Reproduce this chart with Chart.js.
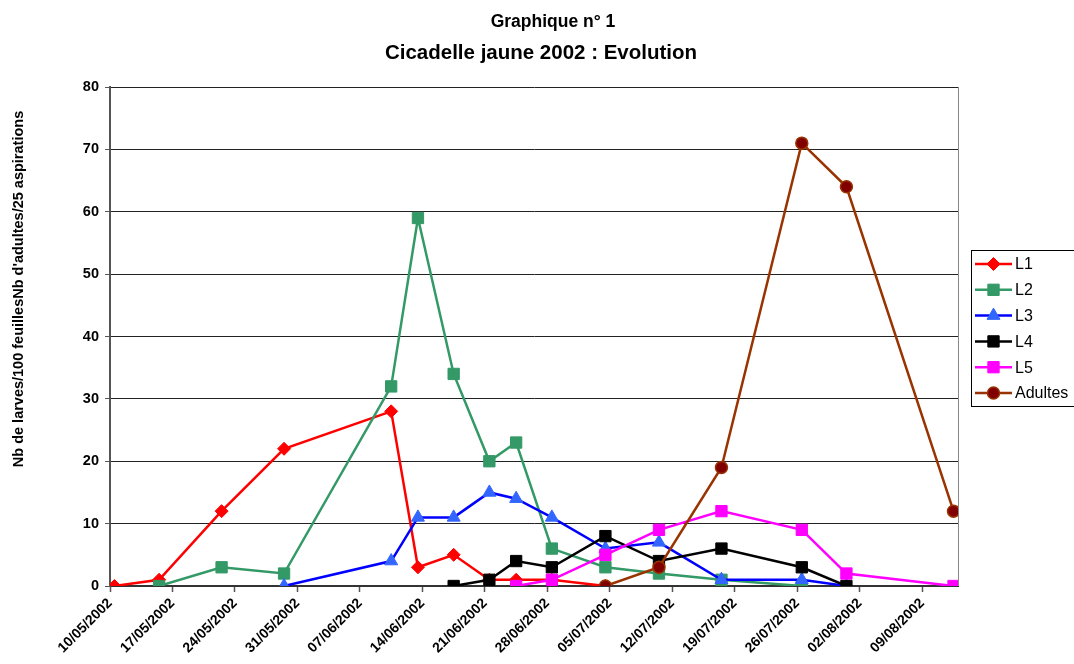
<!DOCTYPE html>
<html lang="fr">
<head>
<meta charset="UTF-8">
<title>Cicadelle jaune 2002 : Evolution</title>
<script src="https://cdn.jsdelivr.net/npm/chart.js"></script>
<style>
  html, body { margin: 0; padding: 0; background: #fff; }
</style>
</head>
<body>
<canvas id="cicadelleChart" width="1074" height="664"></canvas>
<script>
// Dates de prélèvement (une colonne par date)
const sampleDates = ["10/05/2002", "15/05/2002", "22/05/2002", "29/05/2002", "10/06/2002", "13/06/2002",
  "17/06/2002", "21/06/2002", "24/06/2002", "28/06/2002", "04/07/2002", "10/07/2002",
  "17/07/2002", "26/07/2002", "31/07/2002", "12/08/2002"];

// Etiquettes de l'axe des dates (une par semaine)
const tickLabels = ["10/05/2002", "17/05/2002", "24/05/2002", "31/05/2002", "07/06/2002", "14/06/2002",
  "21/06/2002", "28/06/2002", "05/07/2002", "12/07/2002", "19/07/2002", "26/07/2002",
  "02/08/2002", "09/08/2002"];

// Comptages par stade (null = pas de valeur)
const L1 = [0, 1, 12, 22, 28, 3, 5, 1, 1, 1, 0, null, null, null, null, null];
const L2 = [null, 0, 3, 2, 32, 59, 34, 20, 23, 6, 3, 2, 1, 0, null, null];
const L3 = [null, null, null, 0, 4, 11, 11, 15, 14, 11, 6, 7, 1, 1, 0, null];
const L4 = [null, null, null, null, null, null, 0, 1, 4, 3, 8, 4, 6, 3, 0, null];
const L5 = [null, null, null, null, null, null, null, null, 0, 1, 5, 9, 12, 9, 2, 0];
const adultes = [null, null, null, null, null, null, null, null, null, null, 0, 3, 19, 71, 64, 12];

const FONT = "'Liberation Sans', Arial, sans-serif";

// jours depuis le 10/05/2002 ; Excel place chaque point au milieu de son jour
function dayOffset(str) {
  const [d, m, y] = str.split("/").map(Number);
  return (Date.UTC(y, m - 1, d) - Date.UTC(2002, 4, 10)) / 86400000;
}
const xs = sampleDates.map((d) => dayOffset(d) + 0.5);

function toPoints(values) {
  return values
    .map((v, i) => (v === null ? null : { x: xs[i], y: v }))
    .filter((p) => p !== null);
}

function series(label, values, lineColor, pointColor, style, radius, order) {
  return {
    label: label,
    data: toPoints(values),
    borderColor: lineColor,
    borderWidth: 2.5,
    pointStyle: style,
    pointRadius: radius,
    pointBackgroundColor: pointColor,
    pointBorderColor: label === "Adultes" ? "#993300" : pointColor,
    pointBorderWidth: label === "Adultes" ? 1.5 : 1,
    tension: 0,
    fill: false,
    order: order,
  };
}

const datasets = [
  series("L1", L1, "#FF0000", "#FF0000", "rectRot", 6.5, 6),
  series("L2", L2, "#339966", "#339966", "rect", 8, 5),
  series("L3", L3, "#0000FF", "#3366FF", "triangle", 7.5, 4),
  series("L4", L4, "#000000", "#000000", "rect", 8, 3),
  series("L5", L5, "#FF00FF", "#FF00FF", "rect", 8, 2),
  series("Adultes", adultes, "#993300", "#800000", "circle", 6, 1),
];

// titres, titre vertical, bord droit et légende encadrée façon Excel
const excelDecor = {
  id: "excelDecor",
  afterDraw(chart) {
    const ctx = chart.ctx;
    const area = chart.chartArea;
    ctx.save();

    // bord droit de la zone de traçage
    ctx.strokeStyle = "#888";
    ctx.lineWidth = 1;
    ctx.beginPath();
    ctx.moveTo(area.right + 0.5, area.top);
    ctx.lineTo(area.right + 0.5, area.bottom);
    ctx.stroke();

    ctx.fillStyle = "#000";
    ctx.textAlign = "center";
    ctx.textBaseline = "alphabetic";
    ctx.font = "bold 17.5px " + FONT;
    ctx.fillText("Graphique n° 1", 553, 27);
    ctx.font = "bold 20.5px " + FONT;
    ctx.fillText("Cicadelle jaune 2002 : Evolution", 541, 58.5);

    ctx.save();
    ctx.translate(22.5, 289);
    ctx.rotate(-Math.PI / 2);
    ctx.font = "bold 14.5px " + FONT;
    ctx.fillText("Nb de larves/100 feuillesNb d'adultes/25 aspirations", 0, 0);
    ctx.restore();

    // légende
    ctx.strokeStyle = "#000";
    ctx.lineWidth = 1;
    ctx.strokeRect(971.5, 250.5, 110, 156);
    chart.data.datasets.forEach((ds, i) => {
      const y = 264 + i * 25.8;
      ctx.strokeStyle = ds.borderColor;
      ctx.lineWidth = 2.5;
      ctx.beginPath();
      ctx.moveTo(975, y);
      ctx.lineTo(1012, y);
      ctx.stroke();
      ctx.fillStyle = ds.pointBackgroundColor;
      ctx.strokeStyle = ds.pointBorderColor;
      ctx.lineWidth = ds.pointBorderWidth;
      Chart.helpers.drawPoint(ctx, { pointStyle: ds.pointStyle, radius: ds.pointRadius, rotation: 0, borderWidth: ds.pointBorderWidth }, 993.5, y);
      ctx.fillStyle = "#000";
      ctx.textAlign = "left";
      ctx.textBaseline = "middle";
      ctx.font = "16px " + FONT;
      ctx.fillText(ds.label, 1015, y + 1);
    });
    ctx.restore();
  },
};

const ctx = document.getElementById("cicadelleChart").getContext("2d");
const cicadelleChart = new Chart(ctx, {
  type: "line",
  data: { datasets: datasets },
  options: {
    responsive: false,
    animation: false,
    layout: { padding: { top: 87, right: 116, bottom: 8, left: 70 } },
    plugins: {
      legend: { display: false },
      tooltip: { enabled: false },
      title: { display: false },
    },
    scales: {
      x: {
        type: "linear",
        min: 0,
        max: 95,
        ticks: {
          stepSize: 7,
          includeBounds: false,
          autoSkip: false,
          minRotation: 45,
          maxRotation: 45,
          padding: 3,
          color: "#000",
          font: { family: FONT, size: 14, weight: "bold" },
          callback: (v) => tickLabels[v / 7] || "",
        },
        grid: { drawOnChartArea: false, drawTicks: true, tickLength: 6, tickColor: "#555", tickWidth: 1.5 },
        border: { color: "#333", width: 2 },
        afterFit: (scale) => { scale.height = 70; },
      },
      y: {
        min: 0,
        max: 80,
        ticks: {
          stepSize: 10,
          padding: 6,
          color: "#000",
          font: { family: FONT, size: 14.5, weight: "bold" },
        },
        grid: { color: "#222", lineWidth: 1, tickLength: 5, tickColor: "#555" },
        border: { color: "#555", width: 2 },
        afterFit: (scale) => { scale.width = 40; },
      },
    },
  },
  plugins: [excelDecor],
});
</script>
</body>
</html>
